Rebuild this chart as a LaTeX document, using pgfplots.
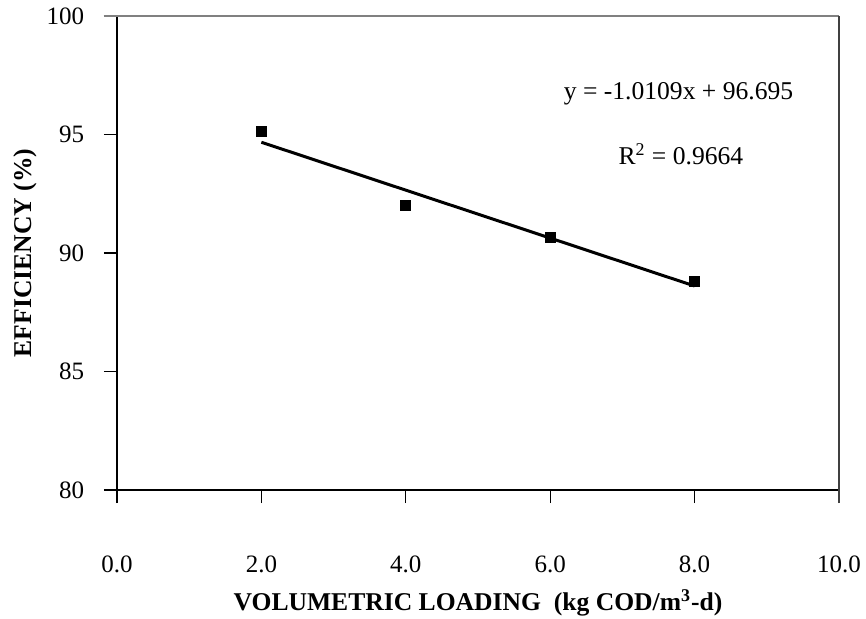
\documentclass[border=0pt]{standalone}
\usepackage{fontspec}
\setmainfont{Liberation Serif}
\usepackage{pgfplots}
\pgfplotsset{compat=1.18}

\begin{document}
\fontsize{12.8}{15}\selectfont
\begin{tikzpicture}
% page frame: 866x618 px at 0.5pt per px, axis box lower-left at (117,490) px
\path[use as bounding box] (-58.5pt,-64pt) rectangle (374.5pt,245pt);
\begin{axis}[
    at={(0,0)}, anchor=south west,
    scale only axis,
    width=361pt, height=237pt,
    xmin=0, xmax=10, ymin=80, ymax=100,
    xtick={0,2,4,6,8,10},
    ytick={80,85,90,95,100},
    axis x line*=bottom, axis y line*=left,
    axis line style={line width=0.75pt},
    tick align=outside,
    major tick length=6.5pt,
    tick style={black, line width=0.6pt},
    /pgf/number format/assume math mode=true,
    tick label style={font=\fontsize{12.5}{14}\selectfont},
    xticklabel style={/pgf/number format/.cd, fixed, fixed zerofill, precision=1, /tikz/.cd, yshift=-22pt},
    yticklabel style={xshift=-5.5pt},
    xlabel={\bfseries VOLUMETRIC LOADING\ \ (kg COD/m\textsuperscript{3}-d)},
    ylabel={\bfseries EFFICIENCY (\%)},
    xlabel style={at={(axis description cs:0.5,-0.238)}, anchor=center},
    ylabel style={at={(axis description cs:-0.1274,0.5)}, anchor=center},
    clip=false,
]
\draw[gray, line width=0.75pt] (rel axis cs:-0.018,1) -- (rel axis cs:1,1);
\draw[black!75, line width=0.75pt] (rel axis cs:1,1) -- (rel axis cs:1,0) -- (rel axis cs:1,-0.027);
\addplot[only marks, mark=square*, mark size=2.5pt, black] coordinates {
    (2, 95.15) (4, 92.02) (6, 90.66) (8, 88.80)
};
\addplot[black, line width=1.5pt, no marks] coordinates {
    (2, 94.673) (8, 88.608)
};
\node[anchor=base] at (axis cs:7.777,96.485) {y = -1.0109x + 96.695};
\node[anchor=base] at (axis cs:7.81,93.755) {R\textsuperscript{2} = 0.9664};
\end{axis}
\end{tikzpicture}
\end{document}
